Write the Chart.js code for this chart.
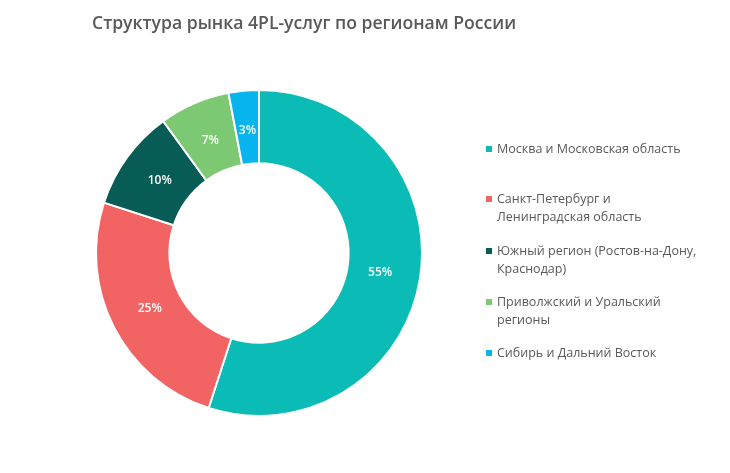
<!DOCTYPE html>
<html><head><meta charset="utf-8">
<script src="https://cdn.jsdelivr.net/npm/chart.js@4"></script>
<style>
body{margin:0;width:730px;height:473px;background:#fff;font-family:"Open Sans",sans-serif;position:relative;overflow:hidden}
#title{position:absolute;left:92px;top:10px;font-size:17.6px;font-weight:600;color:#595959}
#wrap{position:absolute;left:0;top:0;width:730px;height:473px}
#legend{position:absolute;left:486px;top:140px;font-size:12.5px;color:#595959;line-height:18px}
.item{position:absolute;left:0;width:240px;padding-left:11px}
.sw{position:absolute;left:0;top:6px;width:6px;height:6px}
</style></head>
<body>
<div id="wrap"><canvas id="c"></canvas></div>
<div id="title">Структура рынка 4PL-услуг по регионам России</div>
<div id="legend"></div>
<script>
const categories = ['Москва и Московская область', 'Санкт-Петербург и Ленинградская область', 'Южный регион (Ростов-на-Дону, Краснодар)', 'Приволжский и Уральский регионы', 'Сибирь и Дальний Восток'];
const legendLines = [['Москва и Московская область'], ['Санкт-Петербург и', 'Ленинградская область'], ['Южный регион (Ростов-на-Дону,', 'Краснодар)'], ['Приволжский и Уральский', 'регионы'], ['Сибирь и Дальний Восток']];
const values = [55, 25, 10, 7, 3];
const colors = ['#0bbbb5', '#f26363', '#075c56', '#7dc872', '#08b4ee'];

const legend = document.getElementById('legend');
const tops = [0, 50, 102, 153, 204];
legendLines.forEach((lines, i) => {
  const d = document.createElement('div');
  d.className = 'item';
  d.style.top = tops[i] + 'px';
  d.innerHTML = '<span class="sw" style="background:' + colors[i] + '"></span>' + lines.join('<br>');
  legend.appendChild(d);
});

// percent labels in the ring
const labelPlugin = {
  id: 'pctLabels',
  afterDatasetsDraw(chart) {
    const ctx = chart.ctx;
    const meta = chart.getDatasetMeta(0);
    ctx.save();
    ctx.font = '600 12px "Open Sans"';
    ctx.fillStyle = '#fff';
    ctx.textAlign = 'center';
    ctx.textBaseline = 'middle';
    meta.data.forEach((arc, i) => {
      const p = arc.getProps(['x', 'y', 'startAngle', 'endAngle', 'innerRadius', 'outerRadius'], true);
      const a = (p.startAngle + p.endAngle) / 2;
      const r = p.innerRadius + (p.outerRadius - p.innerRadius) * 0.45;
      ctx.fillText(values[i] + '%', p.x + Math.cos(a) * r, p.y + Math.sin(a) * r);
    });
    ctx.restore();
  }
};

new Chart(document.getElementById('c'), {
  type: 'doughnut',
  data: {
    labels: categories,
    datasets: [{ data: values, backgroundColor: colors, borderColor: '#fff', borderWidth: 2 }]
  },
  options: {
    responsive: true,
    maintainAspectRatio: false,
    animation: false,
    cutout: '55%',
    layout: { padding: { left: 95, right: 307, top: 89, bottom: 56 } },
    plugins: { legend: { display: false }, tooltip: { enabled: false } }
  },
  plugins: [labelPlugin]
});
</script>
</body></html>
